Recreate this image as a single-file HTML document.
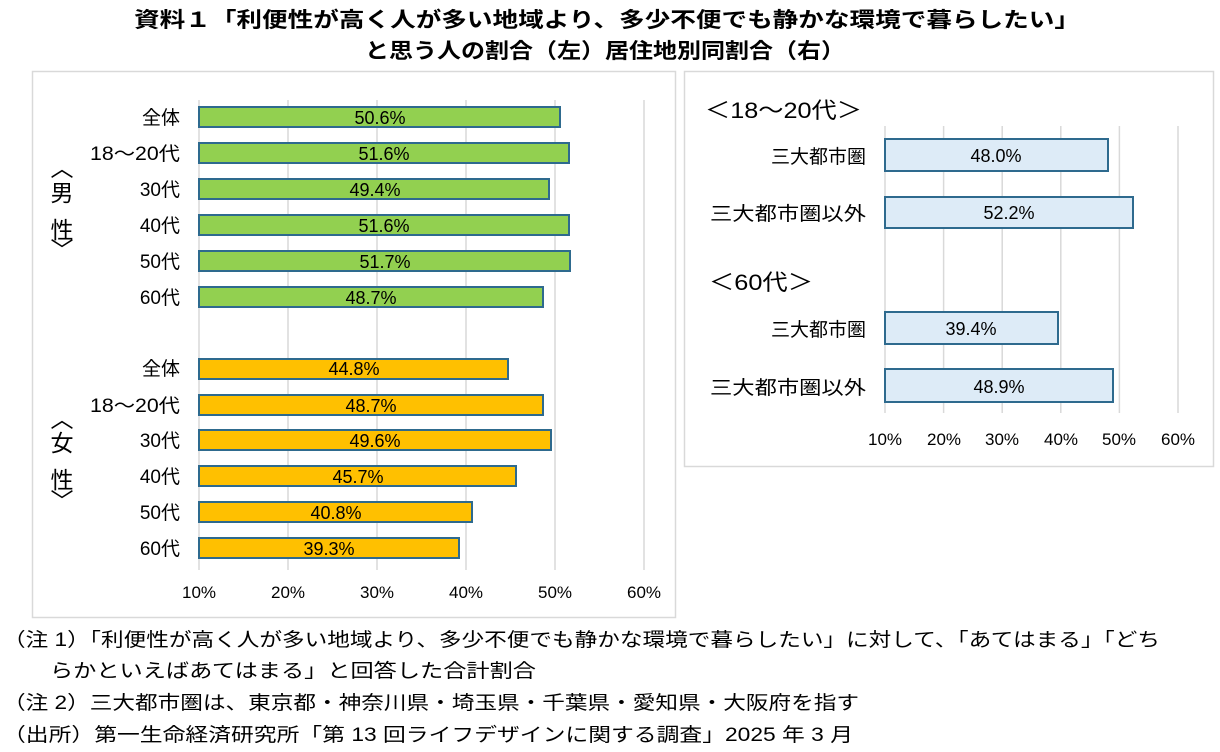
<!DOCTYPE html>
<html><head><meta charset="utf-8"><style>
html,body{margin:0;padding:0;background:#fff}
svg{display:block}
text{font-family:"Liberation Sans","Noto Sans CJK JP",sans-serif;fill:#000}
</style></head><body>
<svg width="1220" height="752" viewBox="0 0 1220 752" xmlns="http://www.w3.org/2000/svg">
<text x="607" y="27" font-size="21" text-anchor="middle" font-weight="bold" textLength="946" lengthAdjust="spacingAndGlyphs">資料１「利便性が高く人が多い地域より、多少不便でも静かな環境で暮らしたい」</text>
<text x="605" y="58" font-size="21" text-anchor="middle" font-weight="bold" textLength="480" lengthAdjust="spacingAndGlyphs">と思う人の割合（左）居住地別同割合（右）</text>

<rect x="32.5" y="71.5" width="643" height="546" fill="#fff" stroke="#d9d9d9" stroke-width="1.5"/>
<rect x="684.5" y="71.5" width="529" height="395" fill="#fff" stroke="#d9d9d9" stroke-width="1.5"/>

<g stroke="#d9d9d9" stroke-width="1.5">
<line x1="199" y1="100" x2="199" y2="570"/><line x1="288" y1="100" x2="288" y2="570"/><line x1="377" y1="100" x2="377" y2="570"/><line x1="466" y1="100" x2="466" y2="570"/><line x1="555" y1="100" x2="555" y2="570"/><line x1="644" y1="100" x2="644" y2="570"/>
<line x1="885" y1="126" x2="885" y2="413"/><line x1="943.6" y1="126" x2="943.6" y2="413"/><line x1="1002.2" y1="126" x2="1002.2" y2="413"/><line x1="1060.8" y1="126" x2="1060.8" y2="413"/><line x1="1119.4" y1="126" x2="1119.4" y2="413"/><line x1="1178" y1="126" x2="1178" y2="413"/>
</g>

<g stroke="#2e6a8e" stroke-width="2" fill="#92d050">
<rect x="199" y="107" width="361" height="20"/>
<rect x="199" y="143" width="370" height="20"/>
<rect x="199" y="179" width="350" height="20"/>
<rect x="199" y="215" width="370" height="20"/>
<rect x="199" y="251" width="371" height="20"/>
<rect x="199" y="287" width="344" height="20"/>
</g>
<g stroke="#2e6a8e" stroke-width="2" fill="#ffc000">
<rect x="199" y="359" width="309" height="20"/>
<rect x="199" y="395" width="344" height="20"/>
<rect x="199" y="430" width="352" height="20"/>
<rect x="199" y="466" width="317" height="20"/>
<rect x="199" y="502" width="273" height="20"/>
<rect x="199" y="538" width="260" height="20"/>
</g>
<g stroke="#2e6a8e" stroke-width="2" fill="#ddebf7">
<rect x="885" y="139" width="223" height="32"/>
<rect x="885" y="197" width="248" height="31"/>
<rect x="885" y="312" width="173" height="32"/>
<rect x="885" y="369" width="228" height="33"/>
</g>

<g font-size="18" text-anchor="middle">
<text x="380" y="124">50.6%</text><text x="384" y="160">51.6%</text><text x="375" y="196">49.4%</text><text x="384" y="232">51.6%</text><text x="385" y="268">51.7%</text><text x="371" y="304">48.7%</text>
<text x="354" y="375">44.8%</text><text x="371" y="412">48.7%</text><text x="375" y="447">49.6%</text><text x="358" y="483">45.7%</text><text x="336" y="519">40.8%</text><text x="329" y="555">39.3%</text>
<text x="996" y="162">48.0%</text><text x="1009" y="219">52.2%</text><text x="971" y="335">39.4%</text><text x="999" y="393">48.9%</text>
</g>

<g font-size="19" text-anchor="end">
<text x="180" y="124">全体</text><text x="180" y="160" textLength="90" lengthAdjust="spacingAndGlyphs">18～20代</text><text x="180" y="196">30代</text><text x="180" y="232">40代</text><text x="180" y="268">50代</text><text x="180" y="304">60代</text>
<text x="180" y="375">全体</text><text x="180" y="412" textLength="90" lengthAdjust="spacingAndGlyphs">18～20代</text><text x="180" y="447">30代</text><text x="180" y="483">40代</text><text x="180" y="519">50代</text><text x="180" y="555">60代</text>
<text x="866" y="163">三大都市圏</text><text x="866" y="220" textLength="156" lengthAdjust="spacingAndGlyphs">三大都市圏以外</text><text x="866" y="336">三大都市圏</text><text x="866" y="394" textLength="156" lengthAdjust="spacingAndGlyphs">三大都市圏以外</text>
</g>
<g font-size="23" text-anchor="middle">
<text x="62" y="176">︿</text><text x="62" y="201">男</text><text x="62" y="238">性</text><text x="62" y="258">﹀</text>
<text x="62" y="427">︿</text><text x="62" y="451">女</text><text x="62" y="488">性</text><text x="62" y="509">﹀</text>
</g>
<text x="705" y="118" font-size="22" textLength="157" lengthAdjust="spacingAndGlyphs">＜18～20代＞</text>
<text x="709" y="290" font-size="22" textLength="104" lengthAdjust="spacingAndGlyphs">＜60代＞</text>

<g font-size="17" text-anchor="middle">
<text x="199" y="598">10%</text><text x="288" y="598">20%</text><text x="377" y="598">30%</text><text x="466" y="598">40%</text><text x="555" y="598">50%</text><text x="644" y="598">60%</text>
<text x="885" y="445">10%</text><text x="944" y="445">20%</text><text x="1002" y="445">30%</text><text x="1061" y="445">40%</text><text x="1119" y="445">50%</text><text x="1178" y="445">60%</text>
</g>

<g font-size="19">
<text x="3" y="646" textLength="1157" lengthAdjust="spacingAndGlyphs">（注 1）「利便性が高く人が多い地域より、多少不便でも静かな環境で暮らしたい」に対して、「あてはまる」「どち</text>
<text x="50" y="677" textLength="486" lengthAdjust="spacingAndGlyphs">らかといえばあてはまる」と回答した合計割合</text>
<text x="3" y="709" textLength="856" lengthAdjust="spacingAndGlyphs">（注 2）三大都市圏は、東京都・神奈川県・埼玉県・千葉県・愛知県・大阪府を指す</text>
<text x="3" y="741" textLength="850" lengthAdjust="spacingAndGlyphs">（出所）第一生命経済研究所「第 13 回ライフデザインに関する調査」2025 年 3 月</text>
</g>
</svg>
</body></html>
